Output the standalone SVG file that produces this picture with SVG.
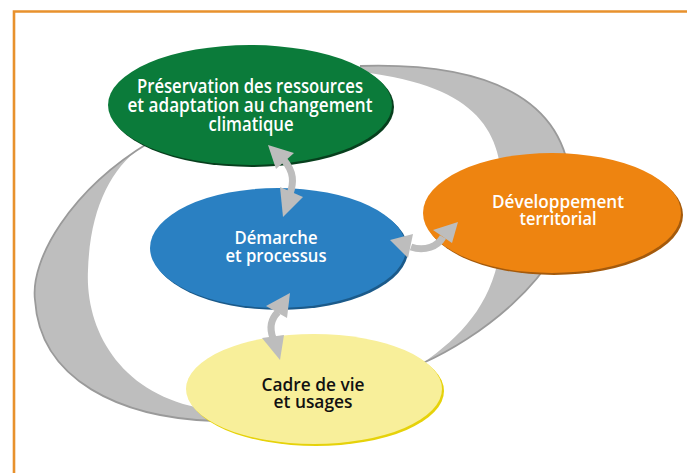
<svg xmlns="http://www.w3.org/2000/svg" width="687" height="473" viewBox="0 0 687 473">
<style>
.band{fill:#bebebe;stroke:none}
.bandedge{fill:none;stroke:#9a9a9a;stroke-width:1.8}
.abody{fill:none;stroke:#bdbdbd;stroke-width:7}
.ahead{fill:#bdbdbd}
.lbl{font-family:"Open Sans","DejaVu Sans",sans-serif;font-size:18px;font-weight:600;text-anchor:middle}
.w{fill:#ffffff}
.k{fill:#111111}
</style>
<rect x="0" y="0" width="687" height="473" fill="#ffffff"/>
<path d="M14,473 V11.5 H687" fill="none" stroke="#e8912d" stroke-width="2.6"/>
<g id="cycle">
  <path class="band" d="M150,142 C70,190 30,260 35,300 C40,380 120,418 215,421 L205,409 C120,395 85,330 88,270 C90,210 110,170 140,148 Z"/>
  <path class="bandedge" d="M150,142 C70,190 30,260 35,300 C40,380 120,418 215,421"/>
  <path class="band" d="M360,66 C490,62 580,100 570,210 C560,280 475,340 423,363 C470,330 505,290 502,210 C505,140 490,88 362,72 Z"/>
  <path class="bandedge" d="M360,66 C490,62 580,100 570,210 C560,280 475,340 423,363"/>
</g>
<g id="node-preservation">
  <ellipse cx="252" cy="107" rx="142" ry="60" fill="#073f1d"/>
  <ellipse cx="250" cy="105" rx="142" ry="60" fill="#0b7b3a"/>
  <text class="lbl w" x="250" y="93" style="font-size:19px" textLength="226" lengthAdjust="spacingAndGlyphs">Préservation des ressources</text>
  <text class="lbl w" x="250" y="112" style="font-size:19px" textLength="245" lengthAdjust="spacingAndGlyphs">et adaptation au changement</text>
  <text class="lbl w" x="251" y="131" style="font-size:19px" textLength="85" lengthAdjust="spacingAndGlyphs">climatique</text>
</g>
<g id="node-demarche">
  <ellipse cx="280" cy="250" rx="128" ry="60" fill="#1b5a8a"/>
  <ellipse cx="278" cy="248" rx="128" ry="60" fill="#2a80c2"/>
  <text class="lbl w" x="276" y="244" textLength="83" lengthAdjust="spacingAndGlyphs">Démarche</text>
  <text class="lbl w" x="276" y="262" textLength="101" lengthAdjust="spacingAndGlyphs">et processus</text>
</g>
<g id="node-developpement">
  <ellipse cx="554" cy="215" rx="129" ry="60" fill="#a45a0c"/>
  <ellipse cx="552" cy="213" rx="129" ry="60" fill="#ee8410"/>
  <text class="lbl w" x="558" y="208" textLength="132" lengthAdjust="spacingAndGlyphs">Développement</text>
  <text class="lbl w" x="558" y="225" textLength="77" lengthAdjust="spacingAndGlyphs">territorial</text>
</g>
<g id="node-cadre">
  <ellipse cx="316" cy="391" rx="128" ry="55" fill="#e6d20a"/>
  <ellipse cx="314" cy="389" rx="128" ry="55" fill="#f8ef9a"/>
  <text class="lbl k" x="313" y="391" textLength="103" lengthAdjust="spacingAndGlyphs">Cadre de vie</text>
  <text class="lbl k" x="313" y="408" textLength="79" lengthAdjust="spacingAndGlyphs">et usages</text>
</g>
<g id="connectors">
  <path class="abody" d="M284,160 C294,172 294,182 290,194"/>
  <polygon class="ahead" points="268,145 294,153 276,169"/>
  <polygon class="ahead" points="280,187 303,197 283,217"/>
  <path class="abody" d="M411,247 C425,252 438,246 443,237"/>
  <polygon class="ahead" points="390,240 413,234 408,258"/>
  <polygon class="ahead" points="458,222 433,230 452,243"/>
  <path class="abody" d="M278,312 C270,320 270,330 273,338"/>
  <polygon class="ahead" points="290,293 266,306 287,318"/>
  <polygon class="ahead" points="262,338 284,335 280,360"/>
</g>
</svg>
